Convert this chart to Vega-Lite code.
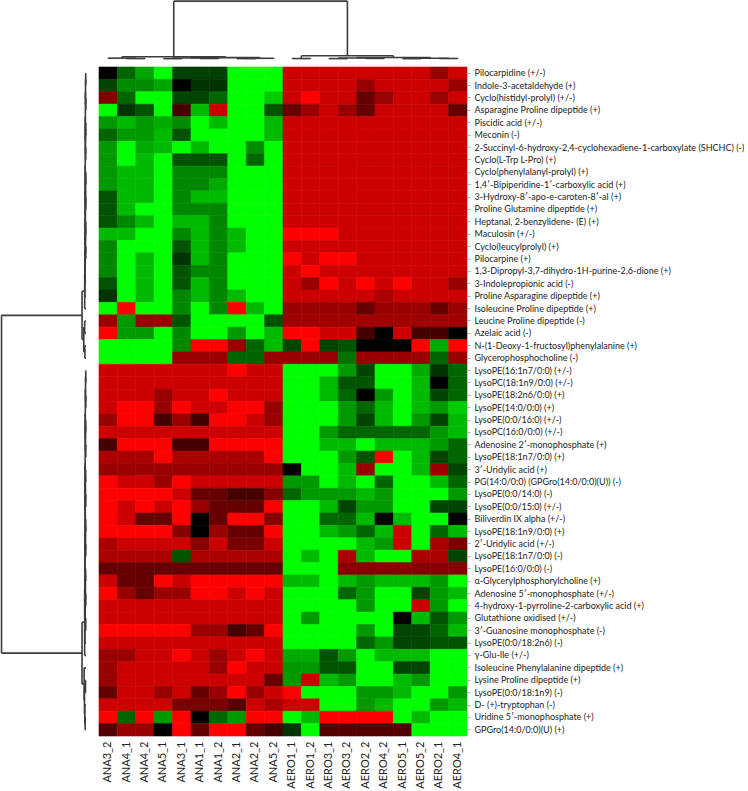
{
"$schema": "https://vega.github.io/schema/vega-lite/v6.json",
"padding": 0,
"background": "white",
"config": {"view": {"stroke": null}, "font": "Lato"},
"datasets": {
"cols": [{"c":0,"s":"ANA3_2"},{"c":1,"s":"ANA4_1"},{"c":2,"s":"ANA4_2"},{"c":3,"s":"ANA5_1"},{"c":4,"s":"ANA3_1"},{"c":5,"s":"ANA1_1"},{"c":6,"s":"ANA1_2"},{"c":7,"s":"ANA2_1"},{"c":8,"s":"ANA2_2"},{"c":9,"s":"ANA5_2"},{"c":10,"s":"AERO1_1"},{"c":11,"s":"AERO1_2"},{"c":12,"s":"AERO3_1"},{"c":13,"s":"AERO3_2"},{"c":14,"s":"AERO2_2"},{"c":15,"s":"AERO4_2"},{"c":16,"s":"AERO5_1"},{"c":17,"s":"AERO5_2"},{"c":18,"s":"AERO2_1"},{"c":19,"s":"AERO4_1"}],
"rows": [{"r":0,"m":"Pilocarpidine (+/-)"},{"r":1,"m":"Indole-3-acetaldehyde (+)"},{"r":2,"m":"Cyclo(histidyl-prolyl) (+/-)"},{"r":3,"m":"Asparagine Proline dipeptide (+)"},{"r":4,"m":"Piscidic acid (+/-)"},{"r":5,"m":"Meconin (-)"},{"r":6,"m":"2-Succinyl-6-hydroxy-2,4-cyclohexadiene-1-carboxylate (SHCHC) (-)"},{"r":7,"m":"Cyclo(L-Trp L-Pro) (+)"},{"r":8,"m":"Cyclo(phenylalanyl-prolyl) (+)"},{"r":9,"m":"1,4′-Bipiperidine-1′-carboxylic acid (+)"},{"r":10,"m":"3-Hydroxy-8′-apo-e-caroten-8′-al (+)"},{"r":11,"m":"Proline Glutamine dipeptide (+)"},{"r":12,"m":"Heptanal, 2-benzylidene- (E) (+)"},{"r":13,"m":"Maculosin (+/-)"},{"r":14,"m":"Cyclo(leucylprolyl) (+)"},{"r":15,"m":"Pilocarpine (+)"},{"r":16,"m":"1,3-Dipropyl-3,7-dihydro-1H-purine-2,6-dione (+)"},{"r":17,"m":"3-Indolepropionic acid (-)"},{"r":18,"m":"Proline Asparagine dipeptide (+)"},{"r":19,"m":"Isoleucine Proline dipeptide (+)"},{"r":20,"m":"Leucine Proline dipeptide (-)"},{"r":21,"m":"Azelaic acid (-)"},{"r":22,"m":"N-(1-Deoxy-1-fructosyl)phenylalanine (+)"},{"r":23,"m":"Glycerophosphocholine (-)"},{"r":24,"m":"LysoPE(16:1n7/0:0) (+/-)"},{"r":25,"m":"LysoPC(18:1n9/0:0) (+/-)"},{"r":26,"m":"LysoPE(18:2n6/0:0) (+)"},{"r":27,"m":"LysoPE(14:0/0:0) (+)"},{"r":28,"m":"LysoPE(0:0/16:0) (+/-)"},{"r":29,"m":"LysoPC(16:0/0:0) (+/-)"},{"r":30,"m":"Adenosine 2′-monophosphate (+)"},{"r":31,"m":"LysoPE(18:1n7/0:0) (+)"},{"r":32,"m":"3′-Uridylic acid (+)"},{"r":33,"m":"PG(14:0/0:0) (GPGro(14:0/0:0)(U)) (-)"},{"r":34,"m":"LysoPE(0:0/14:0) (-)"},{"r":35,"m":"LysoPE(0:0/15:0) (+/-)"},{"r":36,"m":"Biliverdin IX alpha (+/-)"},{"r":37,"m":"LysoPE(18:1n9/0:0) (+)"},{"r":38,"m":"2′-Uridylic acid (+/-)"},{"r":39,"m":"LysoPE(18:1n7/0:0) (-)"},{"r":40,"m":"LysoPE(16:0/0:0) (-)"},{"r":41,"m":"α-Glycerylphosphorylcholine (+)"},{"r":42,"m":"Adenosine 5′-monophosphate (+/-)"},{"r":43,"m":"4-hydroxy-1-pyrroline-2-carboxylic acid (+)"},{"r":44,"m":"Glutathione oxidised (+/-)"},{"r":45,"m":"3′-Guanosine monophosphate (-)"},{"r":46,"m":"LysoPE(0:0/18:2n6) (-)"},{"r":47,"m":"γ-Glu-Ile (+/-)"},{"r":48,"m":"Isoleucine Phenylalanine dipeptide (+)"},{"r":49,"m":"Lysine Proline dipeptide (+)"},{"r":50,"m":"LysoPE(0:0/18:1n9) (-)"},{"r":51,"m":"D- (+)-tryptophan (-)"},{"r":52,"m":"Uridine 5′-monophosphate (+)"},{"r":53,"m":"GPGro(14:0/0:0)(U) (+)"}],
"topTree": [
{"pa":1.5,"ha":0,"pb":2.5,"hb":0,"h":0.8},{"pa":0.5,"ha":0,"pb":2.0,"hb":0.8,"h":1.5},{"pa":3.5,"ha":0,"pb":4.5,"hb":0,"h":0.6},{"pa":5.5,"ha":0,"pb":6.5,"hb":0,"h":0.9},{"pa":4.0,"ha":0.6,"pb":6.0,"hb":0.9,"h":1.6},{"pa":7.5,"ha":0,"pb":8.5,"hb":0,"h":0.7},{"pa":8.0,"ha":0.7,"pb":9.5,"hb":0,"h":1.2},{"pa":5.0,"ha":1.6,"pb":8.75,"hb":1.2,"h":2.3},{"pa":1.25,"ha":1.5,"pb":6.875,"hb":2.3,"h":3.9},
{"pa":10.5,"ha":0,"pb":11.5,"hb":0,"h":0.8},{"pa":12.5,"ha":0,"pb":13.5,"hb":0,"h":0.7},{"pa":14.5,"ha":0,"pb":15.5,"hb":0,"h":1.0},{"pa":13.0,"ha":0.7,"pb":15.0,"hb":1.0,"h":1.8},{"pa":16.5,"ha":0,"pb":17.5,"hb":0,"h":0.6},{"pa":18.5,"ha":0,"pb":19.5,"hb":0,"h":0.9},{"pa":17.0,"ha":0.6,"pb":19.0,"hb":0.9,"h":1.4},{"pa":14.0,"ha":1.8,"pb":18.0,"hb":1.4,"h":2.6},{"pa":11.0,"ha":0.8,"pb":16.0,"hb":2.6,"h":5.7},
{"pa":4.0625,"ha":3.9,"pb":13.5,"hb":5.7,"h":100}],
"leftTree": [
{"pa":0.5,"ha":0,"pb":1.5,"hb":0,"h":0.35},{"pa":2.5,"ha":0,"pb":3.5,"hb":0,"h":0.25},{"pa":4.5,"ha":0,"pb":5.5,"hb":0,"h":0.3},{"pa":6.5,"ha":0,"pb":7.5,"hb":0,"h":0.4},{"pa":8.5,"ha":0,"pb":9.5,"hb":0,"h":0.2},{"pa":10.5,"ha":0,"pb":11.5,"hb":0,"h":0.3},{"pa":12.5,"ha":0,"pb":13.5,"hb":0,"h":0.35},{"pa":14.5,"ha":0,"pb":15.5,"hb":0,"h":0.25},
{"pa":1.0,"ha":0.35,"pb":3.0,"hb":0.25,"h":0.55},{"pa":5.0,"ha":0.3,"pb":7.0,"hb":0.4,"h":0.6},{"pa":9.0,"ha":0.2,"pb":11.0,"hb":0.3,"h":0.5},{"pa":13.0,"ha":0.35,"pb":15.0,"hb":0.25,"h":0.55},
{"pa":2.0,"ha":0.55,"pb":6.0,"hb":0.6,"h":0.75},{"pa":10.0,"ha":0.5,"pb":14.0,"hb":0.55,"h":0.7},{"pa":4.0,"ha":0.75,"pb":12.0,"hb":0.7,"h":0.9},
{"pa":8.0,"ha":0.9,"pb":16.5,"hb":0,"h":1.0},{"pa":12.25,"ha":1.0,"pb":17.5,"hb":0,"h":1.15},{"pa":14.875,"ha":1.15,"pb":18.5,"hb":0,"h":1.35},{"pa":16.6875,"ha":1.35,"pb":19.5,"hb":0,"h":1.55},
{"pa":20.5,"ha":0,"pb":21.5,"hb":0,"h":1.6},{"pa":22.5,"ha":0,"pb":23.5,"hb":0,"h":1.3},{"pa":21.0,"ha":1.6,"pb":23.0,"hb":1.3,"h":2.6},{"pa":18.09375,"ha":1.55,"pb":22.0,"hb":2.6,"h":4.7},
{"pa":24.5,"ha":0,"pb":25.5,"hb":0,"h":0.3},{"pa":26.5,"ha":0,"pb":27.5,"hb":0,"h":0.25},{"pa":28.5,"ha":0,"pb":29.5,"hb":0,"h":0.35},{"pa":30.5,"ha":0,"pb":31.5,"hb":0,"h":0.3},{"pa":32.5,"ha":0,"pb":33.5,"hb":0,"h":0.4},{"pa":34.5,"ha":0,"pb":35.5,"hb":0,"h":0.3},{"pa":36.5,"ha":0,"pb":37.5,"hb":0,"h":0.35},{"pa":38.5,"ha":0,"pb":39.5,"hb":0,"h":0.3},{"pa":40.5,"ha":0,"pb":41.5,"hb":0,"h":0.45},{"pa":42.5,"ha":0,"pb":43.5,"hb":0,"h":0.3},{"pa":44.5,"ha":0,"pb":45.5,"hb":0,"h":0.35},
{"pa":25,"ha":0.3,"pb":27,"hb":0.25,"h":0.55},{"pa":29,"ha":0.35,"pb":31,"hb":0.3,"h":0.6},{"pa":33,"ha":0.4,"pb":35,"hb":0.3,"h":0.65},{"pa":37,"ha":0.35,"pb":39,"hb":0.3,"h":0.55},{"pa":41,"ha":0.45,"pb":43,"hb":0.3,"h":0.7},
{"pa":26,"ha":0.55,"pb":30,"hb":0.6,"h":0.8},{"pa":34,"ha":0.65,"pb":38,"hb":0.55,"h":0.85},{"pa":42,"ha":0.7,"pb":45,"hb":0.35,"h":0.9},{"pa":28,"ha":0.8,"pb":36,"hb":0.85,"h":1.0},{"pa":32,"ha":1.0,"pb":43.5,"hb":0.9,"h":1.15},
{"pa":37.75,"ha":1.15,"pb":46.5,"hb":0,"h":1.3},{"pa":42.125,"ha":1.3,"pb":47.5,"hb":0,"h":1.6},
{"pa":49.5,"ha":0,"pb":50.5,"hb":0,"h":0.6},{"pa":52.5,"ha":0,"pb":53.5,"hb":0,"h":1.0},{"pa":51.5,"ha":0,"pb":53.0,"hb":1.0,"h":1.4},{"pa":50.0,"ha":0.6,"pb":52.25,"hb":1.4,"h":1.8},{"pa":48.5,"ha":0,"pb":51.125,"hb":1.8,"h":2.2},
{"pa":44.8125,"ha":1.6,"pb":49.8125,"hb":2.2,"h":4.7},
{"pa":20.046875,"ha":4.7,"pb":47.3125,"hb":4.7,"h":100}],
"cells": [
{"r":0,"c":0,"v":0},{"r":0,"c":1,"v":-0.4},{"r":0,"c":2,"v":-0.65},{"r":0,"c":3,"v":-1},{"r":0,"c":4,"v":-0.25},{"r":0,"c":5,"v":-0.25},{"r":0,"c":6,"v":-0.25},{"r":0,"c":7,"v":-1},{"r":0,"c":8,"v":-1},{"r":0,"c":9,"v":-1},{"r":0,"c":10,"v":0.8},{"r":0,"c":11,"v":0.8},{"r":0,"c":12,"v":0.8},{"r":0,"c":13,"v":0.8},{"r":0,"c":14,"v":0.8},{"r":0,"c":15,"v":0.8},{"r":0,"c":16,"v":0.8},{"r":0,"c":17,"v":0.8},{"r":0,"c":18,"v":0.6},{"r":0,"c":19,"v":0.8},
{"r":1,"c":0,"v":-0.27},{"r":1,"c":1,"v":-0.55},{"r":1,"c":2,"v":-0.55},{"r":1,"c":3,"v":-0.65},{"r":1,"c":4,"v":0},{"r":1,"c":5,"v":-0.2},{"r":1,"c":6,"v":-0.2},{"r":1,"c":7,"v":-1},{"r":1,"c":8,"v":-1},{"r":1,"c":9,"v":-1},{"r":1,"c":10,"v":0.8},{"r":1,"c":11,"v":0.8},{"r":1,"c":12,"v":0.8},{"r":1,"c":13,"v":0.8},{"r":1,"c":14,"v":0.6},{"r":1,"c":15,"v":0.8},{"r":1,"c":16,"v":0.8},{"r":1,"c":17,"v":0.8},{"r":1,"c":18,"v":0.8},{"r":1,"c":19,"v":0.6},
{"r":2,"c":0,"v":0.5},{"r":2,"c":1,"v":-0.4},{"r":2,"c":2,"v":-1},{"r":2,"c":3,"v":-1},{"r":2,"c":4,"v":-0.27},{"r":2,"c":5,"v":-0.27},{"r":2,"c":6,"v":-0.4},{"r":2,"c":7,"v":-1},{"r":2,"c":8,"v":-1},{"r":2,"c":9,"v":-0.8},{"r":2,"c":10,"v":0.8},{"r":2,"c":11,"v":1},{"r":2,"c":12,"v":0.8},{"r":2,"c":13,"v":0.8},{"r":2,"c":14,"v":0.4},{"r":2,"c":15,"v":0.6},{"r":2,"c":16,"v":0.8},{"r":2,"c":17,"v":0.8},{"r":2,"c":18,"v":0.6},{"r":2,"c":19,"v":0.8},
{"r":3,"c":0,"v":-1},{"r":3,"c":1,"v":-0.2},{"r":3,"c":2,"v":-0.33},{"r":3,"c":3,"v":-1},{"r":3,"c":4,"v":0.27},{"r":3,"c":5,"v":-0.73},{"r":3,"c":6,"v":0.8},{"r":3,"c":7,"v":-1},{"r":3,"c":8,"v":-1},{"r":3,"c":9,"v":-0.33},{"r":3,"c":10,"v":0.4},{"r":3,"c":11,"v":0.6},{"r":3,"c":12,"v":0.8},{"r":3,"c":13,"v":0.6},{"r":3,"c":14,"v":0.4},{"r":3,"c":15,"v":0.8},{"r":3,"c":16,"v":0.8},{"r":3,"c":17,"v":0.8},{"r":3,"c":18,"v":0.8},{"r":3,"c":19,"v":0.4},
{"r":4,"c":0,"v":-0.6},{"r":4,"c":1,"v":-0.73},{"r":4,"c":2,"v":-0.6},{"r":4,"c":3,"v":-0.67},{"r":4,"c":4,"v":-0.55},{"r":4,"c":5,"v":-1},{"r":4,"c":6,"v":-0.73},{"r":4,"c":7,"v":-1},{"r":4,"c":8,"v":-1},{"r":4,"c":9,"v":-0.73},{"r":4,"c":10,"v":0.8},{"r":4,"c":11,"v":0.8},{"r":4,"c":12,"v":0.8},{"r":4,"c":13,"v":0.8},{"r":4,"c":14,"v":0.8},{"r":4,"c":15,"v":0.8},{"r":4,"c":16,"v":0.8},{"r":4,"c":17,"v":0.8},{"r":4,"c":18,"v":0.8},{"r":4,"c":19,"v":0.8},
{"r":5,"c":0,"v":-0.4},{"r":5,"c":1,"v":-0.6},{"r":5,"c":2,"v":-0.6},{"r":5,"c":3,"v":-0.73},{"r":5,"c":4,"v":-0.33},{"r":5,"c":5,"v":-1},{"r":5,"c":6,"v":-1},{"r":5,"c":7,"v":-1},{"r":5,"c":8,"v":-1},{"r":5,"c":9,"v":-0.73},{"r":5,"c":10,"v":0.8},{"r":5,"c":11,"v":0.8},{"r":5,"c":12,"v":0.8},{"r":5,"c":13,"v":0.8},{"r":5,"c":14,"v":0.8},{"r":5,"c":15,"v":0.8},{"r":5,"c":16,"v":0.8},{"r":5,"c":17,"v":0.8},{"r":5,"c":18,"v":0.8},{"r":5,"c":19,"v":0.8},
{"r":6,"c":0,"v":-0.6},{"r":6,"c":1,"v":-1},{"r":6,"c":2,"v":-0.67},{"r":6,"c":3,"v":-0.73},{"r":6,"c":4,"v":-1},{"r":6,"c":5,"v":-0.73},{"r":6,"c":6,"v":-1},{"r":6,"c":7,"v":-1},{"r":6,"c":8,"v":-0.55},{"r":6,"c":9,"v":-1},{"r":6,"c":10,"v":0.8},{"r":6,"c":11,"v":0.8},{"r":6,"c":12,"v":0.8},{"r":6,"c":13,"v":0.8},{"r":6,"c":14,"v":0.8},{"r":6,"c":15,"v":0.8},{"r":6,"c":16,"v":0.8},{"r":6,"c":17,"v":0.8},{"r":6,"c":18,"v":0.8},{"r":6,"c":19,"v":0.8},
{"r":7,"c":0,"v":-0.6},{"r":7,"c":1,"v":-1},{"r":7,"c":2,"v":-0.73},{"r":7,"c":3,"v":-1},{"r":7,"c":4,"v":-0.33},{"r":7,"c":5,"v":-0.33},{"r":7,"c":6,"v":-0.33},{"r":7,"c":7,"v":-1},{"r":7,"c":8,"v":-0.4},{"r":7,"c":9,"v":-1},{"r":7,"c":10,"v":0.8},{"r":7,"c":11,"v":0.8},{"r":7,"c":12,"v":0.8},{"r":7,"c":13,"v":0.8},{"r":7,"c":14,"v":0.8},{"r":7,"c":15,"v":0.8},{"r":7,"c":16,"v":0.8},{"r":7,"c":17,"v":0.8},{"r":7,"c":18,"v":0.8},{"r":7,"c":19,"v":0.8},
{"r":8,"c":0,"v":-0.6},{"r":8,"c":1,"v":-0.73},{"r":8,"c":2,"v":-0.73},{"r":8,"c":3,"v":-1},{"r":8,"c":4,"v":-0.53},{"r":8,"c":5,"v":-0.53},{"r":8,"c":6,"v":-0.53},{"r":8,"c":7,"v":-1},{"r":8,"c":8,"v":-1},{"r":8,"c":9,"v":-1},{"r":8,"c":10,"v":0.8},{"r":8,"c":11,"v":0.8},{"r":8,"c":12,"v":0.8},{"r":8,"c":13,"v":0.8},{"r":8,"c":14,"v":0.8},{"r":8,"c":15,"v":0.8},{"r":8,"c":16,"v":0.8},{"r":8,"c":17,"v":0.8},{"r":8,"c":18,"v":0.8},{"r":8,"c":19,"v":0.8},
{"r":9,"c":0,"v":-0.6},{"r":9,"c":1,"v":-0.73},{"r":9,"c":2,"v":-0.73},{"r":9,"c":3,"v":-1},{"r":9,"c":4,"v":-0.53},{"r":9,"c":5,"v":-0.53},{"r":9,"c":6,"v":-0.67},{"r":9,"c":7,"v":-1},{"r":9,"c":8,"v":-1},{"r":9,"c":9,"v":-1},{"r":9,"c":10,"v":0.8},{"r":9,"c":11,"v":0.8},{"r":9,"c":12,"v":0.8},{"r":9,"c":13,"v":0.8},{"r":9,"c":14,"v":0.8},{"r":9,"c":15,"v":0.8},{"r":9,"c":16,"v":0.8},{"r":9,"c":17,"v":0.8},{"r":9,"c":18,"v":0.8},{"r":9,"c":19,"v":0.8},
{"r":10,"c":0,"v":-0.33},{"r":10,"c":1,"v":-0.73},{"r":10,"c":2,"v":-0.73},{"r":10,"c":3,"v":-1},{"r":10,"c":4,"v":-0.53},{"r":10,"c":5,"v":-0.73},{"r":10,"c":6,"v":-0.73},{"r":10,"c":7,"v":-1},{"r":10,"c":8,"v":-1},{"r":10,"c":9,"v":-1},{"r":10,"c":10,"v":0.8},{"r":10,"c":11,"v":0.8},{"r":10,"c":12,"v":0.8},{"r":10,"c":13,"v":0.8},{"r":10,"c":14,"v":0.8},{"r":10,"c":15,"v":0.8},{"r":10,"c":16,"v":0.8},{"r":10,"c":17,"v":0.8},{"r":10,"c":18,"v":0.8},{"r":10,"c":19,"v":0.8},
{"r":11,"c":0,"v":-0.33},{"r":11,"c":1,"v":-0.73},{"r":11,"c":2,"v":-1},{"r":11,"c":3,"v":-1},{"r":11,"c":4,"v":-0.53},{"r":11,"c":5,"v":-0.53},{"r":11,"c":6,"v":-0.53},{"r":11,"c":7,"v":-1},{"r":11,"c":8,"v":-1},{"r":11,"c":9,"v":-1},{"r":11,"c":10,"v":0.8},{"r":11,"c":11,"v":0.8},{"r":11,"c":12,"v":0.8},{"r":11,"c":13,"v":0.8},{"r":11,"c":14,"v":0.8},{"r":11,"c":15,"v":0.8},{"r":11,"c":16,"v":0.8},{"r":11,"c":17,"v":0.8},{"r":11,"c":18,"v":0.8},{"r":11,"c":19,"v":0.8},
{"r":12,"c":0,"v":-0.33},{"r":12,"c":1,"v":-0.53},{"r":12,"c":2,"v":-0.73},{"r":12,"c":3,"v":-1},{"r":12,"c":4,"v":-0.73},{"r":12,"c":5,"v":-0.73},{"r":12,"c":6,"v":-0.53},{"r":12,"c":7,"v":-1},{"r":12,"c":8,"v":-1},{"r":12,"c":9,"v":-1},{"r":12,"c":10,"v":0.8},{"r":12,"c":11,"v":0.8},{"r":12,"c":12,"v":0.8},{"r":12,"c":13,"v":0.8},{"r":12,"c":14,"v":0.8},{"r":12,"c":15,"v":0.8},{"r":12,"c":16,"v":0.8},{"r":12,"c":17,"v":0.8},{"r":12,"c":18,"v":0.8},{"r":12,"c":19,"v":0.8},
{"r":13,"c":0,"v":-0.73},{"r":13,"c":1,"v":-0.73},{"r":13,"c":2,"v":-1},{"r":13,"c":3,"v":-1},{"r":13,"c":4,"v":-0.53},{"r":13,"c":5,"v":-0.73},{"r":13,"c":6,"v":-0.53},{"r":13,"c":7,"v":-0.73},{"r":13,"c":8,"v":-1},{"r":13,"c":9,"v":-1},{"r":13,"c":10,"v":1},{"r":13,"c":11,"v":1},{"r":13,"c":12,"v":1},{"r":13,"c":13,"v":0.8},{"r":13,"c":14,"v":0.8},{"r":13,"c":15,"v":0.8},{"r":13,"c":16,"v":0.8},{"r":13,"c":17,"v":0.8},{"r":13,"c":18,"v":0.8},{"r":13,"c":19,"v":0.8},
{"r":14,"c":0,"v":-0.53},{"r":14,"c":1,"v":-1},{"r":14,"c":2,"v":-1},{"r":14,"c":3,"v":-1},{"r":14,"c":4,"v":-0.33},{"r":14,"c":5,"v":-0.73},{"r":14,"c":6,"v":-0.53},{"r":14,"c":7,"v":-0.73},{"r":14,"c":8,"v":-1},{"r":14,"c":9,"v":-1},{"r":14,"c":10,"v":0.8},{"r":14,"c":11,"v":0.8},{"r":14,"c":12,"v":0.8},{"r":14,"c":13,"v":0.8},{"r":14,"c":14,"v":0.8},{"r":14,"c":15,"v":0.8},{"r":14,"c":16,"v":0.8},{"r":14,"c":17,"v":0.8},{"r":14,"c":18,"v":0.8},{"r":14,"c":19,"v":0.8},
{"r":15,"c":0,"v":-0.53},{"r":15,"c":1,"v":-1},{"r":15,"c":2,"v":-0.73},{"r":15,"c":3,"v":-1},{"r":15,"c":4,"v":-0.2},{"r":15,"c":5,"v":-0.73},{"r":15,"c":6,"v":-0.53},{"r":15,"c":7,"v":-1},{"r":15,"c":8,"v":-1},{"r":15,"c":9,"v":-1},{"r":15,"c":10,"v":1},{"r":15,"c":11,"v":0.8},{"r":15,"c":12,"v":1},{"r":15,"c":13,"v":1},{"r":15,"c":14,"v":0.8},{"r":15,"c":15,"v":0.8},{"r":15,"c":16,"v":0.8},{"r":15,"c":17,"v":0.8},{"r":15,"c":18,"v":0.8},{"r":15,"c":19,"v":0.8},
{"r":16,"c":0,"v":-0.53},{"r":16,"c":1,"v":-1},{"r":16,"c":2,"v":-0.73},{"r":16,"c":3,"v":-1},{"r":16,"c":4,"v":-0.33},{"r":16,"c":5,"v":-0.53},{"r":16,"c":6,"v":-0.53},{"r":16,"c":7,"v":-1},{"r":16,"c":8,"v":-1},{"r":16,"c":9,"v":-1},{"r":16,"c":10,"v":0.8},{"r":16,"c":11,"v":1},{"r":16,"c":12,"v":0.8},{"r":16,"c":13,"v":0.8},{"r":16,"c":14,"v":0.8},{"r":16,"c":15,"v":0.8},{"r":16,"c":16,"v":0.8},{"r":16,"c":17,"v":0.8},{"r":16,"c":18,"v":0.8},{"r":16,"c":19,"v":0.8},
{"r":17,"c":0,"v":-0.33},{"r":17,"c":1,"v":-1},{"r":17,"c":2,"v":-0.73},{"r":17,"c":3,"v":-1},{"r":17,"c":4,"v":-0.33},{"r":17,"c":5,"v":-0.73},{"r":17,"c":6,"v":-0.53},{"r":17,"c":7,"v":-1},{"r":17,"c":8,"v":-1},{"r":17,"c":9,"v":-1},{"r":17,"c":10,"v":0.8},{"r":17,"c":11,"v":0.6},{"r":17,"c":12,"v":1},{"r":17,"c":13,"v":0.8},{"r":17,"c":14,"v":1},{"r":17,"c":15,"v":0.8},{"r":17,"c":16,"v":1},{"r":17,"c":17,"v":0.8},{"r":17,"c":18,"v":0.8},{"r":17,"c":19,"v":0.6},
{"r":18,"c":0,"v":-0.2},{"r":18,"c":1,"v":-1},{"r":18,"c":2,"v":-0.73},{"r":18,"c":3,"v":-1},{"r":18,"c":4,"v":-0.53},{"r":18,"c":5,"v":-0.73},{"r":18,"c":6,"v":-0.53},{"r":18,"c":7,"v":-0.73},{"r":18,"c":8,"v":-1},{"r":18,"c":9,"v":-1},{"r":18,"c":10,"v":0.8},{"r":18,"c":11,"v":0.8},{"r":18,"c":12,"v":0.8},{"r":18,"c":13,"v":0.8},{"r":18,"c":14,"v":0.8},{"r":18,"c":15,"v":0.67},{"r":18,"c":16,"v":0.8},{"r":18,"c":17,"v":0.8},{"r":18,"c":18,"v":0.8},{"r":18,"c":19,"v":0.8},
{"r":19,"c":0,"v":-1},{"r":19,"c":1,"v":1},{"r":19,"c":2,"v":-1},{"r":19,"c":3,"v":-1},{"r":19,"c":4,"v":-0.53},{"r":19,"c":5,"v":-1},{"r":19,"c":6,"v":-0.53},{"r":19,"c":7,"v":1},{"r":19,"c":8,"v":-0.73},{"r":19,"c":9,"v":-1},{"r":19,"c":10,"v":0.6},{"r":19,"c":11,"v":0.6},{"r":19,"c":12,"v":0.6},{"r":19,"c":13,"v":0.6},{"r":19,"c":14,"v":0.4},{"r":19,"c":15,"v":0.6},{"r":19,"c":16,"v":0.6},{"r":19,"c":17,"v":0.6},{"r":19,"c":18,"v":0.4},{"r":19,"c":19,"v":0.6},
{"r":20,"c":0,"v":0.6},{"r":20,"c":1,"v":-0.6},{"r":20,"c":2,"v":0.6},{"r":20,"c":3,"v":0.6},{"r":20,"c":4,"v":-0.33},{"r":20,"c":5,"v":-1},{"r":20,"c":6,"v":-1},{"r":20,"c":7,"v":-1},{"r":20,"c":8,"v":-1},{"r":20,"c":9,"v":-0.33},{"r":20,"c":10,"v":0.63},{"r":20,"c":11,"v":0.63},{"r":20,"c":12,"v":0.63},{"r":20,"c":13,"v":0.63},{"r":20,"c":14,"v":0.63},{"r":20,"c":15,"v":0.63},{"r":20,"c":16,"v":0.63},{"r":20,"c":17,"v":0.63},{"r":20,"c":18,"v":0.63},{"r":20,"c":19,"v":0.63},
{"r":21,"c":0,"v":1},{"r":21,"c":1,"v":-0.6},{"r":21,"c":2,"v":-0.6},{"r":21,"c":3,"v":-1},{"r":21,"c":4,"v":-0.53},{"r":21,"c":5,"v":-1},{"r":21,"c":6,"v":-1},{"r":21,"c":7,"v":-0.6},{"r":21,"c":8,"v":-1},{"r":21,"c":9,"v":-0.73},{"r":21,"c":10,"v":1},{"r":21,"c":11,"v":1},{"r":21,"c":12,"v":0.8},{"r":21,"c":13,"v":0.8},{"r":21,"c":14,"v":0.27},{"r":21,"c":15,"v":0},{"r":21,"c":16,"v":0.8},{"r":21,"c":17,"v":0.27},{"r":21,"c":18,"v":0.27},{"r":21,"c":19,"v":0},
{"r":22,"c":0,"v":-1},{"r":22,"c":1,"v":-1},{"r":22,"c":2,"v":-1},{"r":22,"c":3,"v":-1},{"r":22,"c":4,"v":-0.53},{"r":22,"c":5,"v":1},{"r":22,"c":6,"v":1},{"r":22,"c":7,"v":0.6},{"r":22,"c":8,"v":-0.4},{"r":22,"c":9,"v":-0.73},{"r":22,"c":10,"v":-0.27},{"r":22,"c":11,"v":1},{"r":22,"c":12,"v":-0.27},{"r":22,"c":13,"v":-0.33},{"r":22,"c":14,"v":0},{"r":22,"c":15,"v":0},{"r":22,"c":16,"v":0},{"r":22,"c":17,"v":1},{"r":22,"c":18,"v":-0.67},{"r":22,"c":19,"v":1},
{"r":23,"c":0,"v":-1},{"r":23,"c":1,"v":-1},{"r":23,"c":2,"v":-1},{"r":23,"c":3,"v":-1},{"r":23,"c":4,"v":0.6},{"r":23,"c":5,"v":0.6},{"r":23,"c":6,"v":0.6},{"r":23,"c":7,"v":-0.4},{"r":23,"c":8,"v":-0.4},{"r":23,"c":9,"v":0.6},{"r":23,"c":10,"v":0.6},{"r":23,"c":11,"v":0.6},{"r":23,"c":12,"v":0.6},{"r":23,"c":13,"v":-0.45},{"r":23,"c":14,"v":0.6},{"r":23,"c":15,"v":0.6},{"r":23,"c":16,"v":0.6},{"r":23,"c":17,"v":0.6},{"r":23,"c":18,"v":-0.4},{"r":23,"c":19,"v":0.6},
{"r":24,"c":0,"v":0.8},{"r":24,"c":1,"v":0.8},{"r":24,"c":2,"v":0.8},{"r":24,"c":3,"v":0.8},{"r":24,"c":4,"v":0.8},{"r":24,"c":5,"v":0.8},{"r":24,"c":6,"v":0.8},{"r":24,"c":7,"v":1},{"r":24,"c":8,"v":0.8},{"r":24,"c":9,"v":0.8},{"r":24,"c":10,"v":-1},{"r":24,"c":11,"v":-1},{"r":24,"c":12,"v":-1},{"r":24,"c":13,"v":-0.6},{"r":24,"c":14,"v":-0.27},{"r":24,"c":15,"v":-1},{"r":24,"c":16,"v":-1},{"r":24,"c":17,"v":-0.67},{"r":24,"c":18,"v":-0.2},{"r":24,"c":19,"v":-0.4},
{"r":25,"c":0,"v":0.8},{"r":25,"c":1,"v":0.8},{"r":25,"c":2,"v":0.8},{"r":25,"c":3,"v":0.8},{"r":25,"c":4,"v":0.8},{"r":25,"c":5,"v":0.8},{"r":25,"c":6,"v":0.8},{"r":25,"c":7,"v":0.8},{"r":25,"c":8,"v":0.8},{"r":25,"c":9,"v":0.8},{"r":25,"c":10,"v":-1},{"r":25,"c":11,"v":-1},{"r":25,"c":12,"v":-0.73},{"r":25,"c":13,"v":-0.33},{"r":25,"c":14,"v":-0.33},{"r":25,"c":15,"v":-1},{"r":25,"c":16,"v":-1},{"r":25,"c":17,"v":-0.73},{"r":25,"c":18,"v":0},{"r":25,"c":19,"v":-0.4},
{"r":26,"c":0,"v":0.8},{"r":26,"c":1,"v":0.8},{"r":26,"c":2,"v":0.8},{"r":26,"c":3,"v":0.6},{"r":26,"c":4,"v":0.8},{"r":26,"c":5,"v":0.8},{"r":26,"c":6,"v":1},{"r":26,"c":7,"v":0.8},{"r":26,"c":8,"v":0.8},{"r":26,"c":9,"v":0.8},{"r":26,"c":10,"v":-1},{"r":26,"c":11,"v":-1},{"r":26,"c":12,"v":-0.73},{"r":26,"c":13,"v":-0.4},{"r":26,"c":14,"v":0},{"r":26,"c":15,"v":-0.6},{"r":26,"c":16,"v":-1},{"r":26,"c":17,"v":-0.73},{"r":26,"c":18,"v":-0.27},{"r":26,"c":19,"v":-0.4},
{"r":27,"c":0,"v":0.8},{"r":27,"c":1,"v":1},{"r":27,"c":2,"v":1},{"r":27,"c":3,"v":0.6},{"r":27,"c":4,"v":1},{"r":27,"c":5,"v":0.8},{"r":27,"c":6,"v":0.8},{"r":27,"c":7,"v":1},{"r":27,"c":8,"v":1},{"r":27,"c":9,"v":0.6},{"r":27,"c":10,"v":-1},{"r":27,"c":11,"v":-1},{"r":27,"c":12,"v":-1},{"r":27,"c":13,"v":-0.6},{"r":27,"c":14,"v":-0.4},{"r":27,"c":15,"v":-0.73},{"r":27,"c":16,"v":-1},{"r":27,"c":17,"v":-0.73},{"r":27,"c":18,"v":-0.6},{"r":27,"c":19,"v":-0.8},
{"r":28,"c":0,"v":0.6},{"r":28,"c":1,"v":1},{"r":28,"c":2,"v":1},{"r":28,"c":3,"v":0.27},{"r":28,"c":4,"v":0.6},{"r":28,"c":5,"v":0.27},{"r":28,"c":6,"v":1},{"r":28,"c":7,"v":1},{"r":28,"c":8,"v":0.8},{"r":28,"c":9,"v":0.6},{"r":28,"c":10,"v":-1},{"r":28,"c":11,"v":-1},{"r":28,"c":12,"v":-1},{"r":28,"c":13,"v":-0.6},{"r":28,"c":14,"v":-0.27},{"r":28,"c":15,"v":-0.73},{"r":28,"c":16,"v":-1},{"r":28,"c":17,"v":-0.6},{"r":28,"c":18,"v":-0.27},{"r":28,"c":19,"v":-0.73},
{"r":29,"c":0,"v":0.8},{"r":29,"c":1,"v":0.8},{"r":29,"c":2,"v":0.8},{"r":29,"c":3,"v":0.8},{"r":29,"c":4,"v":0.8},{"r":29,"c":5,"v":0.8},{"r":29,"c":6,"v":0.8},{"r":29,"c":7,"v":0.8},{"r":29,"c":8,"v":0.8},{"r":29,"c":9,"v":0.8},{"r":29,"c":10,"v":-1},{"r":29,"c":11,"v":-1},{"r":29,"c":12,"v":-0.6},{"r":29,"c":13,"v":-0.4},{"r":29,"c":14,"v":-0.4},{"r":29,"c":15,"v":-0.4},{"r":29,"c":16,"v":-0.4},{"r":29,"c":17,"v":-0.4},{"r":29,"c":18,"v":-0.6},{"r":29,"c":19,"v":-0.73},
{"r":30,"c":0,"v":0.27},{"r":30,"c":1,"v":1},{"r":30,"c":2,"v":1},{"r":30,"c":3,"v":1},{"r":30,"c":4,"v":0.27},{"r":30,"c":5,"v":0.27},{"r":30,"c":6,"v":1},{"r":30,"c":7,"v":1},{"r":30,"c":8,"v":1},{"r":30,"c":9,"v":1},{"r":30,"c":10,"v":-1},{"r":30,"c":11,"v":-1},{"r":30,"c":12,"v":-0.73},{"r":30,"c":13,"v":-0.73},{"r":30,"c":14,"v":-1},{"r":30,"c":15,"v":-0.73},{"r":30,"c":16,"v":-0.73},{"r":30,"c":17,"v":-0.73},{"r":30,"c":18,"v":-0.6},{"r":30,"c":19,"v":-0.4},
{"r":31,"c":0,"v":0.67},{"r":31,"c":1,"v":0.67},{"r":31,"c":2,"v":0.67},{"r":31,"c":3,"v":1},{"r":31,"c":4,"v":0.67},{"r":31,"c":5,"v":0.67},{"r":31,"c":6,"v":0.67},{"r":31,"c":7,"v":0.67},{"r":31,"c":8,"v":0.67},{"r":31,"c":9,"v":1},{"r":31,"c":10,"v":-1},{"r":31,"c":11,"v":-1},{"r":31,"c":12,"v":-1},{"r":31,"c":13,"v":-0.6},{"r":31,"c":14,"v":-0.33},{"r":31,"c":15,"v":1},{"r":31,"c":16,"v":-1},{"r":31,"c":17,"v":-0.73},{"r":31,"c":18,"v":-0.27},{"r":31,"c":19,"v":-0.4},
{"r":32,"c":0,"v":0.6},{"r":32,"c":1,"v":0.6},{"r":32,"c":2,"v":0.6},{"r":32,"c":3,"v":0.6},{"r":32,"c":4,"v":0.6},{"r":32,"c":5,"v":0.6},{"r":32,"c":6,"v":0.6},{"r":32,"c":7,"v":0.6},{"r":32,"c":8,"v":0.6},{"r":32,"c":9,"v":0.6},{"r":32,"c":10,"v":0},{"r":32,"c":11,"v":-1},{"r":32,"c":12,"v":-1},{"r":32,"c":13,"v":-0.73},{"r":32,"c":14,"v":0.6},{"r":32,"c":15,"v":-1},{"r":32,"c":16,"v":-1},{"r":32,"c":17,"v":-0.73},{"r":32,"c":18,"v":0.6},{"r":32,"c":19,"v":-0.27},
{"r":33,"c":0,"v":1},{"r":33,"c":1,"v":0.8},{"r":33,"c":2,"v":0.8},{"r":33,"c":3,"v":0.6},{"r":33,"c":4,"v":1},{"r":33,"c":5,"v":0.8},{"r":33,"c":6,"v":0.8},{"r":33,"c":7,"v":0.8},{"r":33,"c":8,"v":0.8},{"r":33,"c":9,"v":0.8},{"r":33,"c":10,"v":-0.6},{"r":33,"c":11,"v":-0.6},{"r":33,"c":12,"v":-1},{"r":33,"c":13,"v":-0.73},{"r":33,"c":14,"v":-1},{"r":33,"c":15,"v":-0.4},{"r":33,"c":16,"v":-1},{"r":33,"c":17,"v":-1},{"r":33,"c":18,"v":-0.73},{"r":33,"c":19,"v":-0.4},
{"r":34,"c":0,"v":1},{"r":34,"c":1,"v":1},{"r":34,"c":2,"v":1},{"r":34,"c":3,"v":1},{"r":34,"c":4,"v":0.8},{"r":34,"c":5,"v":0.4},{"r":34,"c":6,"v":0.4},{"r":34,"c":7,"v":0.27},{"r":34,"c":8,"v":0.27},{"r":34,"c":9,"v":0.53},{"r":34,"c":10,"v":-0.4},{"r":34,"c":11,"v":-0.6},{"r":34,"c":12,"v":-0.6},{"r":34,"c":13,"v":-0.6},{"r":34,"c":14,"v":-0.73},{"r":34,"c":15,"v":-0.6},{"r":34,"c":16,"v":-1},{"r":34,"c":17,"v":-1},{"r":34,"c":18,"v":-1},{"r":34,"c":19,"v":-0.6},
{"r":35,"c":0,"v":1},{"r":35,"c":1,"v":0.8},{"r":35,"c":2,"v":1},{"r":35,"c":3,"v":0.8},{"r":35,"c":4,"v":1},{"r":35,"c":5,"v":0.6},{"r":35,"c":6,"v":0.4},{"r":35,"c":7,"v":0.4},{"r":35,"c":8,"v":0.4},{"r":35,"c":9,"v":1},{"r":35,"c":10,"v":-1},{"r":35,"c":11,"v":-1},{"r":35,"c":12,"v":-0.73},{"r":35,"c":13,"v":-0.27},{"r":35,"c":14,"v":-0.6},{"r":35,"c":15,"v":-0.6},{"r":35,"c":16,"v":-1},{"r":35,"c":17,"v":-1},{"r":35,"c":18,"v":-0.27},{"r":35,"c":19,"v":-0.27},
{"r":36,"c":0,"v":1},{"r":36,"c":1,"v":0.8},{"r":36,"c":2,"v":0.4},{"r":36,"c":3,"v":0.4},{"r":36,"c":4,"v":1},{"r":36,"c":5,"v":0},{"r":36,"c":6,"v":0.4},{"r":36,"c":7,"v":1},{"r":36,"c":8,"v":1},{"r":36,"c":9,"v":0.53},{"r":36,"c":10,"v":-1},{"r":36,"c":11,"v":-1},{"r":36,"c":12,"v":-0.4},{"r":36,"c":13,"v":-0.4},{"r":36,"c":14,"v":-0.73},{"r":36,"c":15,"v":0},{"r":36,"c":16,"v":-0.73},{"r":36,"c":17,"v":-1},{"r":36,"c":18,"v":-1},{"r":36,"c":19,"v":0},
{"r":37,"c":0,"v":1},{"r":37,"c":1,"v":1},{"r":37,"c":2,"v":1},{"r":37,"c":3,"v":1},{"r":37,"c":4,"v":0.53},{"r":37,"c":5,"v":0},{"r":37,"c":6,"v":0.6},{"r":37,"c":7,"v":0.4},{"r":37,"c":8,"v":0.4},{"r":37,"c":9,"v":1},{"r":37,"c":10,"v":-1},{"r":37,"c":11,"v":-1},{"r":37,"c":12,"v":-0.73},{"r":37,"c":13,"v":-0.6},{"r":37,"c":14,"v":-0.4},{"r":37,"c":15,"v":-0.73},{"r":37,"c":16,"v":0.8},{"r":37,"c":17,"v":-1},{"r":37,"c":18,"v":-0.4},{"r":37,"c":19,"v":-0.73},
{"r":38,"c":0,"v":0.67},{"r":38,"c":1,"v":0.8},{"r":38,"c":2,"v":0.8},{"r":38,"c":3,"v":0.8},{"r":38,"c":4,"v":0.8},{"r":38,"c":5,"v":0.53},{"r":38,"c":6,"v":0.8},{"r":38,"c":7,"v":0.47},{"r":38,"c":8,"v":0.47},{"r":38,"c":9,"v":0.8},{"r":38,"c":10,"v":-1},{"r":38,"c":11,"v":-1},{"r":38,"c":12,"v":-1},{"r":38,"c":13,"v":-1},{"r":38,"c":14,"v":-0.73},{"r":38,"c":15,"v":-0.6},{"r":38,"c":16,"v":0.8},{"r":38,"c":17,"v":-1},{"r":38,"c":18,"v":0.67},{"r":38,"c":19,"v":0.47},
{"r":39,"c":0,"v":0.67},{"r":39,"c":1,"v":0.67},{"r":39,"c":2,"v":0.67},{"r":39,"c":3,"v":0.67},{"r":39,"c":4,"v":-0.33},{"r":39,"c":5,"v":0.67},{"r":39,"c":6,"v":0.67},{"r":39,"c":7,"v":0.67},{"r":39,"c":8,"v":0.67},{"r":39,"c":9,"v":0.67},{"r":39,"c":10,"v":-1},{"r":39,"c":11,"v":-0.73},{"r":39,"c":12,"v":-1},{"r":39,"c":13,"v":0.67},{"r":39,"c":14,"v":-0.73},{"r":39,"c":15,"v":-1},{"r":39,"c":16,"v":-1},{"r":39,"c":17,"v":0.67},{"r":39,"c":18,"v":0.67},{"r":39,"c":19,"v":-0.27},
{"r":40,"c":0,"v":0.4},{"r":40,"c":1,"v":0.4},{"r":40,"c":2,"v":0.4},{"r":40,"c":3,"v":0.4},{"r":40,"c":4,"v":0.4},{"r":40,"c":5,"v":0.4},{"r":40,"c":6,"v":0.4},{"r":40,"c":7,"v":0.4},{"r":40,"c":8,"v":0.4},{"r":40,"c":9,"v":0.4},{"r":40,"c":10,"v":-1},{"r":40,"c":11,"v":-1},{"r":40,"c":12,"v":-1},{"r":40,"c":13,"v":0.53},{"r":40,"c":14,"v":0.53},{"r":40,"c":15,"v":0.53},{"r":40,"c":16,"v":0.53},{"r":40,"c":17,"v":0.53},{"r":40,"c":18,"v":0.53},{"r":40,"c":19,"v":0.53},
{"r":41,"c":0,"v":0.8},{"r":41,"c":1,"v":0.4},{"r":41,"c":2,"v":0.4},{"r":41,"c":3,"v":1},{"r":41,"c":4,"v":0.8},{"r":41,"c":5,"v":1},{"r":41,"c":6,"v":1},{"r":41,"c":7,"v":1},{"r":41,"c":8,"v":1},{"r":41,"c":9,"v":1},{"r":41,"c":10,"v":-0.73},{"r":41,"c":11,"v":-0.73},{"r":41,"c":12,"v":-1},{"r":41,"c":13,"v":-0.73},{"r":41,"c":14,"v":-0.6},{"r":41,"c":15,"v":-0.73},{"r":41,"c":16,"v":-0.73},{"r":41,"c":17,"v":-0.73},{"r":41,"c":18,"v":-0.6},{"r":41,"c":19,"v":-1},
{"r":42,"c":0,"v":1},{"r":42,"c":1,"v":0.6},{"r":42,"c":2,"v":0.4},{"r":42,"c":3,"v":0.6},{"r":42,"c":4,"v":0.6},{"r":42,"c":5,"v":1},{"r":42,"c":6,"v":1},{"r":42,"c":7,"v":0.8},{"r":42,"c":8,"v":1},{"r":42,"c":9,"v":0.8},{"r":42,"c":10,"v":-1},{"r":42,"c":11,"v":-1},{"r":42,"c":12,"v":-1},{"r":42,"c":13,"v":-0.4},{"r":42,"c":14,"v":-0.6},{"r":42,"c":15,"v":-1},{"r":42,"c":16,"v":-1},{"r":42,"c":17,"v":-0.27},{"r":42,"c":18,"v":-0.6},{"r":42,"c":19,"v":-0.73},
{"r":43,"c":0,"v":0.8},{"r":43,"c":1,"v":0.8},{"r":43,"c":2,"v":0.8},{"r":43,"c":3,"v":0.8},{"r":43,"c":4,"v":0.8},{"r":43,"c":5,"v":0.8},{"r":43,"c":6,"v":0.8},{"r":43,"c":7,"v":0.8},{"r":43,"c":8,"v":0.8},{"r":43,"c":9,"v":0.8},{"r":43,"c":10,"v":-1},{"r":43,"c":11,"v":-1},{"r":43,"c":12,"v":-1},{"r":43,"c":13,"v":-1},{"r":43,"c":14,"v":-0.6},{"r":43,"c":15,"v":-1},{"r":43,"c":16,"v":-1},{"r":43,"c":17,"v":0.8},{"r":43,"c":18,"v":-0.6},{"r":43,"c":19,"v":-1},
{"r":44,"c":0,"v":0.8},{"r":44,"c":1,"v":0.8},{"r":44,"c":2,"v":0.8},{"r":44,"c":3,"v":0.8},{"r":44,"c":4,"v":0.8},{"r":44,"c":5,"v":0.8},{"r":44,"c":6,"v":0.8},{"r":44,"c":7,"v":0.8},{"r":44,"c":8,"v":0.8},{"r":44,"c":9,"v":0.8},{"r":44,"c":10,"v":-1},{"r":44,"c":11,"v":-0.6},{"r":44,"c":12,"v":-1},{"r":44,"c":13,"v":-1},{"r":44,"c":14,"v":-1},{"r":44,"c":15,"v":-1},{"r":44,"c":16,"v":0},{"r":44,"c":17,"v":-0.73},{"r":44,"c":18,"v":-0.33},{"r":44,"c":19,"v":-0.6},
{"r":45,"c":0,"v":1},{"r":45,"c":1,"v":1},{"r":45,"c":2,"v":1},{"r":45,"c":3,"v":1},{"r":45,"c":4,"v":1},{"r":45,"c":5,"v":0.6},{"r":45,"c":6,"v":0.6},{"r":45,"c":7,"v":0.27},{"r":45,"c":8,"v":0.4},{"r":45,"c":9,"v":1},{"r":45,"c":10,"v":-1},{"r":45,"c":11,"v":-1},{"r":45,"c":12,"v":-1},{"r":45,"c":13,"v":-1},{"r":45,"c":14,"v":-0.6},{"r":45,"c":15,"v":-1},{"r":45,"c":16,"v":-0.27},{"r":45,"c":17,"v":-0.27},{"r":45,"c":18,"v":-0.4},{"r":45,"c":19,"v":-0.73},
{"r":46,"c":0,"v":0.8},{"r":46,"c":1,"v":0.8},{"r":46,"c":2,"v":0.8},{"r":46,"c":3,"v":0.8},{"r":46,"c":4,"v":0.8},{"r":46,"c":5,"v":0.8},{"r":46,"c":6,"v":0.8},{"r":46,"c":7,"v":0.8},{"r":46,"c":8,"v":0.8},{"r":46,"c":9,"v":0.8},{"r":46,"c":10,"v":-1},{"r":46,"c":11,"v":-1},{"r":46,"c":12,"v":-1},{"r":46,"c":13,"v":-1},{"r":46,"c":14,"v":-0.4},{"r":46,"c":15,"v":-0.6},{"r":46,"c":16,"v":-0.27},{"r":46,"c":17,"v":-0.27},{"r":46,"c":18,"v":-0.33},{"r":46,"c":19,"v":-0.33},
{"r":47,"c":0,"v":0.6},{"r":47,"c":1,"v":0.6},{"r":47,"c":2,"v":0.8},{"r":47,"c":3,"v":0.8},{"r":47,"c":4,"v":1},{"r":47,"c":5,"v":0.8},{"r":47,"c":6,"v":0.6},{"r":47,"c":7,"v":0.8},{"r":47,"c":8,"v":1},{"r":47,"c":9,"v":0.8},{"r":47,"c":10,"v":-0.67},{"r":47,"c":11,"v":-0.67},{"r":47,"c":12,"v":-0.33},{"r":47,"c":13,"v":-0.6},{"r":47,"c":14,"v":-1},{"r":47,"c":15,"v":-0.73},{"r":47,"c":16,"v":-0.73},{"r":47,"c":17,"v":-0.73},{"r":47,"c":18,"v":-1},{"r":47,"c":19,"v":-1},
{"r":48,"c":0,"v":0.6},{"r":48,"c":1,"v":0.8},{"r":48,"c":2,"v":0.8},{"r":48,"c":3,"v":0.8},{"r":48,"c":4,"v":0.8},{"r":48,"c":5,"v":0.8},{"r":48,"c":6,"v":0.6},{"r":48,"c":7,"v":1},{"r":48,"c":8,"v":0.8},{"r":48,"c":9,"v":0.8},{"r":48,"c":10,"v":-0.6},{"r":48,"c":11,"v":-0.6},{"r":48,"c":12,"v":-0.33},{"r":48,"c":13,"v":-0.33},{"r":48,"c":14,"v":-1},{"r":48,"c":15,"v":-1},{"r":48,"c":16,"v":-0.27},{"r":48,"c":17,"v":-0.27},{"r":48,"c":18,"v":-1},{"r":48,"c":19,"v":-1},
{"r":49,"c":0,"v":0.6},{"r":49,"c":1,"v":0.8},{"r":49,"c":2,"v":0.8},{"r":49,"c":3,"v":0.8},{"r":49,"c":4,"v":0.8},{"r":49,"c":5,"v":0.8},{"r":49,"c":6,"v":0.8},{"r":49,"c":7,"v":0.8},{"r":49,"c":8,"v":0.8},{"r":49,"c":9,"v":0.4},{"r":49,"c":10,"v":-0.6},{"r":49,"c":11,"v":0.8},{"r":49,"c":12,"v":-0.73},{"r":49,"c":13,"v":-0.6},{"r":49,"c":14,"v":-1},{"r":49,"c":15,"v":-1},{"r":49,"c":16,"v":-0.73},{"r":49,"c":17,"v":-0.6},{"r":49,"c":18,"v":-1},{"r":49,"c":19,"v":-1},
{"r":50,"c":0,"v":0.4},{"r":50,"c":1,"v":0.8},{"r":50,"c":2,"v":0.8},{"r":50,"c":3,"v":0.6},{"r":50,"c":4,"v":0.8},{"r":50,"c":5,"v":0.4},{"r":50,"c":6,"v":0.6},{"r":50,"c":7,"v":1},{"r":50,"c":8,"v":0.6},{"r":50,"c":9,"v":0.8},{"r":50,"c":10,"v":1},{"r":50,"c":11,"v":-1},{"r":50,"c":12,"v":-1},{"r":50,"c":13,"v":-1},{"r":50,"c":14,"v":-0.6},{"r":50,"c":15,"v":-0.6},{"r":50,"c":16,"v":-0.73},{"r":50,"c":17,"v":-1},{"r":50,"c":18,"v":-1},{"r":50,"c":19,"v":-0.6},
{"r":51,"c":0,"v":0.8},{"r":51,"c":1,"v":0.8},{"r":51,"c":2,"v":0.8},{"r":51,"c":3,"v":0.8},{"r":51,"c":4,"v":0.47},{"r":51,"c":5,"v":0.47},{"r":51,"c":6,"v":0.47},{"r":51,"c":7,"v":0.33},{"r":51,"c":8,"v":0.8},{"r":51,"c":9,"v":0.67},{"r":51,"c":10,"v":0.8},{"r":51,"c":11,"v":0.8},{"r":51,"c":12,"v":-1},{"r":51,"c":13,"v":-1},{"r":51,"c":14,"v":-0.6},{"r":51,"c":15,"v":-0.73},{"r":51,"c":16,"v":-1},{"r":51,"c":17,"v":-1},{"r":51,"c":18,"v":-0.6},{"r":51,"c":19,"v":-0.73},
{"r":52,"c":0,"v":1},{"r":52,"c":1,"v":-0.4},{"r":52,"c":2,"v":1},{"r":52,"c":3,"v":-0.6},{"r":52,"c":4,"v":1},{"r":52,"c":5,"v":0},{"r":52,"c":6,"v":-0.4},{"r":52,"c":7,"v":-0.6},{"r":52,"c":8,"v":1},{"r":52,"c":9,"v":1},{"r":52,"c":10,"v":-1},{"r":52,"c":11,"v":-0.73},{"r":52,"c":12,"v":1},{"r":52,"c":13,"v":1},{"r":52,"c":14,"v":1},{"r":52,"c":15,"v":1},{"r":52,"c":16,"v":-1},{"r":52,"c":17,"v":-0.73},{"r":52,"c":18,"v":-1},{"r":52,"c":19,"v":-1},
{"r":53,"c":0,"v":0.33},{"r":53,"c":1,"v":0.6},{"r":53,"c":2,"v":0.6},{"r":53,"c":3,"v":0},{"r":53,"c":4,"v":1},{"r":53,"c":5,"v":0.4},{"r":53,"c":6,"v":1},{"r":53,"c":7,"v":1},{"r":53,"c":8,"v":0.4},{"r":53,"c":9,"v":0.27},{"r":53,"c":10,"v":-0.2},{"r":53,"c":11,"v":-1},{"r":53,"c":12,"v":0.33},{"r":53,"c":13,"v":0.33},{"r":53,"c":14,"v":0.33},{"r":53,"c":15,"v":0.33},{"r":53,"c":16,"v":0.33},{"r":53,"c":17,"v":-1},{"r":53,"c":18,"v":-1},{"r":53,"c":19,"v":-1}
]
},
"spacing": 8,
"bounds": "flush",
"vconcat": [
{
"width": 467, "height": 59,
"data": {"name": "topTree"},
"layer": [
{"mark": {"type": "rule", "color": "#3c3c3c", "strokeWidth": 1.6},
 "encoding": {"x": {"field": "pa", "type": "quantitative", "scale": {"domain": [-5.3804, 20], "nice": false, "zero": false}, "axis": null},
  "y": {"field": "ha", "type": "quantitative", "scale": {"domain": [0, 102], "nice": false}, "axis": null}, "y2": {"field": "h"}}},
{"mark": {"type": "rule", "color": "#3c3c3c", "strokeWidth": 1.6},
 "encoding": {"x": {"field": "pb", "type": "quantitative"}, "y": {"field": "hb", "type": "quantitative"}, "y2": {"field": "h"}}},
{"mark": {"type": "rule", "color": "#3c3c3c", "strokeWidth": 1.6},
 "encoding": {"x": {"field": "pa", "type": "quantitative"}, "x2": {"field": "pb"}, "y": {"field": "h", "type": "quantitative"}}}
]
},
{
"spacing": 13,
"bounds": "flush",
"hconcat": [
{
"width": 86, "height": 669,
"data": {"name": "leftTree"},
"layer": [
{"mark": {"type": "rule", "color": "#3c3c3c", "strokeWidth": 1.6},
 "encoding": {"y": {"field": "pa", "type": "quantitative", "scale": {"domain": [0, 54], "nice": false, "zero": false, "reverse": true}, "axis": null},
  "x": {"field": "ha", "type": "quantitative", "scale": {"domain": [0, 101.8], "nice": false, "reverse": true}, "axis": null}, "x2": {"field": "h"}}},
{"mark": {"type": "rule", "color": "#3c3c3c", "strokeWidth": 1.6},
 "encoding": {"y": {"field": "pb", "type": "quantitative"}, "x": {"field": "hb", "type": "quantitative"}, "x2": {"field": "h"}}},
{"mark": {"type": "rule", "color": "#3c3c3c", "strokeWidth": 1.6},
 "encoding": {"y": {"field": "pa", "type": "quantitative"}, "y2": {"field": "pb"}, "x": {"field": "h", "type": "quantitative"}}}
]
},
{
"width": 368, "height": 669,
"data": {"name": "cells"},
"transform": [
{"lookup": "r", "from": {"data": {"name": "rows"}, "key": "r", "fields": ["m"]}},
{"lookup": "c", "from": {"data": {"name": "cols"}, "key": "c", "fields": ["s"]}}
],
"mark": {"type": "rect", "strokeWidth": 0.6},
"encoding": {
"x": {"field": "s", "type": "nominal", "sort": {"field": "c", "op": "min"}, "scale": {"paddingInner": 0, "paddingOuter": 0},
 "axis": {"title": null, "labelAngle": -90, "labelFontSize": 11, "labelFont": "Lato", "labelColor": "#222", "ticks": false, "domain": false, "labelPadding": 5}},
"y": {"field": "m", "type": "nominal", "sort": {"field": "r", "op": "min"}, "scale": {"paddingInner": 0, "paddingOuter": 0},
 "axis": {"orient": "right", "title": null, "domain": false, "tickSize": 3, "tickColor": "#aaaaaa", "labelPadding": 4, "labelFontSize": 9, "labelFont": "Lato", "labelColor": "#222", "labelLimit": 400}},
"color": {"field": "v", "type": "quantitative", "scale": {"domain": [-1, 0, 1], "range": ["#00ff00", "#000000", "#ff0000"], "interpolate": "rgb"}, "legend": null},
"stroke": {"field": "v", "type": "quantitative", "scale": {"domain": [-1, 0, 1], "range": ["#00ff00", "#000000", "#ff0000"], "interpolate": "rgb"}, "legend": null}
}
}
]
}
]
}
